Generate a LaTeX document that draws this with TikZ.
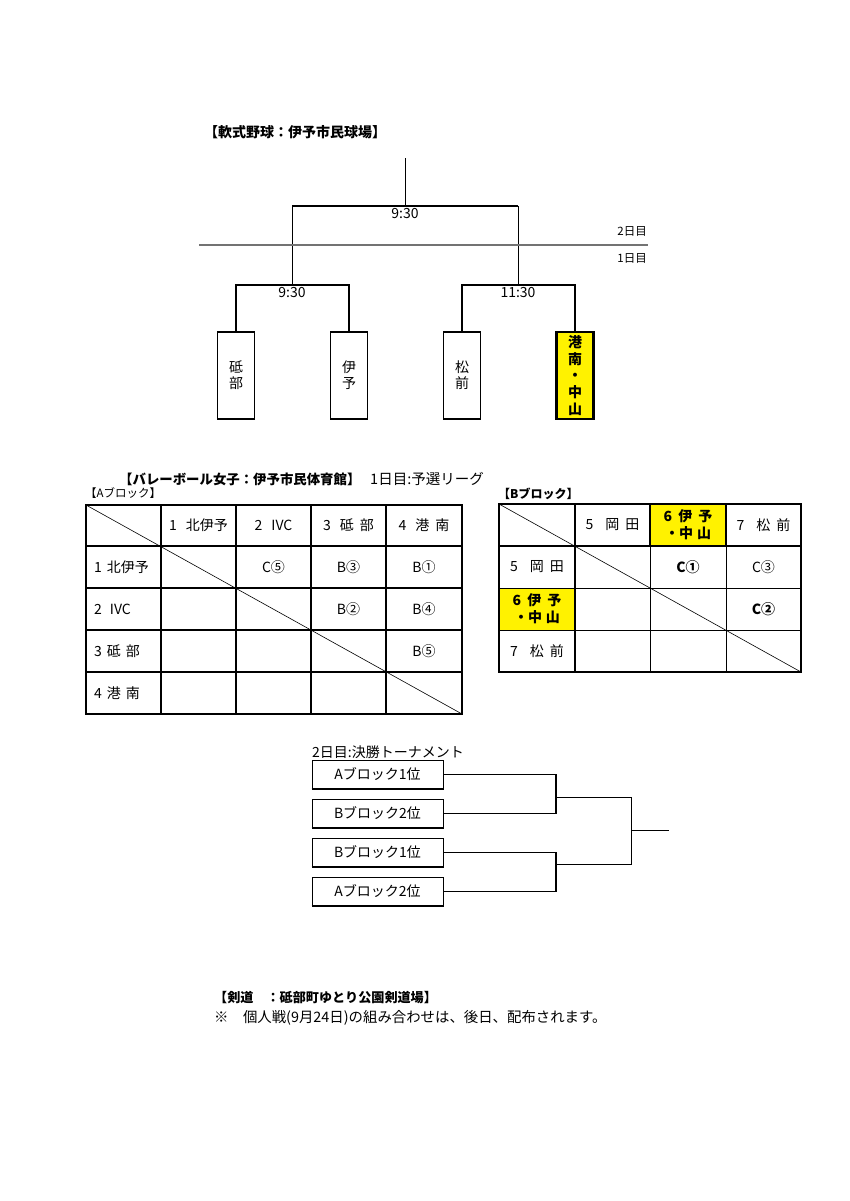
\documentclass[tikz,border=0pt]{standalone}
\usepackage{fontspec}
\setmainfont{Noto Sans CJK JP}
\usetikzlibrary{positioning}
\tikzset{
  every picture/.style={x=1pt, y=-1pt, line join=miter},
  every node/.style={inner sep=1pt, font=\fontsize{14}{16}\selectfont},
  link/.style={line width=0.9pt},
  bar/.style={line width=2pt},
  dayline/.style={line width=1.1pt, black!55},
  ttl/.style={anchor=west, font=\bfseries\fontsize{14}{16}\selectfont},
  smalltxt/.style={font=\fontsize{11.5}{13}\selectfont},
  teambox/.style={draw, line width=1.1pt, minimum width=37pt, minimum height=87pt,
    inner sep=0pt, align=center, font=\fontsize{14}{16}\selectfont},
  cell/.style={line width=1.2pt},
  frame/.style={line width=2pt},
  diag/.style={line width=0.6pt},
  boldcell/.style={align=center, font=\bfseries\fontsize{14}{17}\selectfont},
  slotbox/.style={draw, line width=0.9pt, minimum width=131pt, minimum height=28pt, inner sep=0pt},
}

\begin{document}
\begin{tikzpicture}
\useasboundingbox (0,0) rectangle (849,1201);

% 軟式野球
\node[ttl] (bbttl) at (203,132) {【軟式野球：伊予市民球場】};

\node[teambox] (tobe) at (236,375.5) {砥\\部};
\node[teambox] (iyo) at (349,375.5) {伊\\予};
\node[teambox] (matsu) at (462,375.5) {松\\前};
\node[teambox, fill=yellow, line width=2.6pt,
  font=\bfseries\fontsize{14}{16.75}\selectfont] (konan) at (575,375.5) {港\\南\\・\\中\\山};

\coordinate (m1) at (292,285);
\coordinate (m2) at (518,285);
\coordinate (top) at (405,206);
\coordinate (win) at (405,158);

\draw[bar] (tobe.north) |- (m1) -| (iyo.north);
\draw[bar] (matsu.north) |- (m2) -| (konan.north);
\draw[link] (m1) -- (m1 |- top);
\draw[link] (m2) -- (m2 |- top);
\draw[bar] (m1 |- top) -- (m2 |- top);
\draw[link] (top) -- (win);

\node[below=1pt of top] (t0) {9:30};
\node[below=1pt of m1] (t1) {9:30};
\node[below=1pt of m2] (t2) {11:30};

\coordinate (dl) at (199,245);
\coordinate (dr) at (648,245);
\draw[dayline] (dl) -- (dr);
\node[smalltxt, anchor=east] (day2) at (648,231) {2日目};
\node[smalltxt, anchor=east] (day1) at (648,258) {1日目};

% バレーボール
\node[ttl, font=\bfseries\fontsize{13.4}{15}\selectfont] (vbttl) at (118,479) {【バレーボール女子：伊予市民体育館】};
\node[anchor=west, font=\fontsize{14.5}{16}\selectfont] (vbday) at (369,479) {1日目:予選リーグ};
\node[smalltxt, anchor=west] (ablk) at (84,493) {【Aブロック】};
\node[anchor=west, font=\bfseries\fontsize{12}{14}\selectfont] (bblk) at (497,494) {【Bブロック】};

% Aブロック
\coordinate (aNW) at (86,505);
\coordinate (aSE) at (462,714);
\foreach \x in {161,236,311,386} \draw[cell] (\x,505) -- (\x,714);
\foreach \y in {546,588,630,672} \draw[cell] (86,\y) -- (462,\y);
\draw[frame] (aNW) rectangle (aSE);
\draw[diag] (aNW) -- (aSE);

\node (ah1) at (198.5,525.5) {1\hspace{9pt}北伊予};
\node (ah2) at (273.5,525.5) {2\hspace{9pt}IVC};
\node (ah3) at (348.5,525.5) {3\hspace{9pt}砥\hspace{6pt}部};
\node (ah4) at (424,525.5) {4\hspace{9pt}港\hspace{6pt}南};
\node[anchor=west] (ar1) at (93,567) {1\hspace{5pt}北伊予};
\node[anchor=west] (ar2) at (93,609) {2\hspace{8pt}IVC};
\node[anchor=west] (ar3) at (93,651) {3\hspace{5pt}砥\hspace{5pt}部};
\node[anchor=west] (ar4) at (93,693) {4\hspace{5pt}港\hspace{5pt}南};
\node (a12) at (273.5,567) {C⑤};
\node (a13) at (348.5,567) {B③};
\node (a14) at (424,567) {B①};
\node (a23) at (348.5,609) {B②};
\node (a24) at (424,609) {B④};
\node (a34) at (424,651) {B⑤};

% Bブロック
\coordinate (bNW) at (499,504);
\coordinate (bSE) at (801,672);
\fill[yellow] (650,504) rectangle (726,546);
\fill[yellow] (499,588) rectangle (575,630);
\foreach \x in {650,726} \draw[diag, line width=0.9pt] (\x,546) -- (\x,672);
\foreach \y in {588,630} \draw[diag, line width=0.9pt] (499,\y) -- (801,\y);
\foreach \x in {575,650,726} \draw[frame] (\x,504) -- (\x,546);
\draw[frame] (575,546) -- (575,672);
\draw[frame] (499,546) -- (801,546);
\draw[frame, line width=2.6pt] (bNW) rectangle (bSE);
\draw[diag] (bNW) -- (bSE);

\node (bh1) at (612.5,525) {5\hspace{12pt}岡\hspace{6pt}田};
\node[boldcell] (bh2) at (688,524.5) {6\hspace{6pt}伊\hspace{6pt}予\\・中\hspace{4pt}山};
\node (bh3) at (763.5,525) {7\hspace{12pt}松\hspace{6pt}前};
\node (br1) at (537,567) {5\hspace{12pt}岡\hspace{6pt}田};
\node[boldcell] (br2) at (537,609) {6\hspace{6pt}伊\hspace{6pt}予\\・中\hspace{4pt}山};
\node (br3) at (537,651) {7\hspace{12pt}松\hspace{6pt}前};
\node[font=\bfseries\fontsize{14}{16}\selectfont] (b12) at (688,567) {C①};
\node (b13) at (763.5,567) {C③};
\node[font=\bfseries\fontsize{14}{16}\selectfont] (b23) at (763.5,609) {C②};

% 決勝トーナメント
\node[anchor=west] (fnttl) at (311,752) {2日目:決勝トーナメント};
\node[slotbox] (f1) at (377.5,774.5) {Aブロック1位};
\node[slotbox, below=10pt of f1] (f2) {Bブロック2位};
\node[slotbox, below=10pt of f2] (f3) {Bブロック1位};
\node[slotbox, below=10pt of f3] (f4) {Aブロック2位};
\foreach \n in {f1,f2,f3,f4}
  \draw[line width=1.8pt] (\n.south west) -- (\n.south east) -- (\n.north east);

\coordinate (j1) at (556,797);
\coordinate (j2) at (556,864);
\coordinate (fin) at (631,830.5);
\coordinate (champ) at (669,830.5);
\draw[link] (f1.east) -| (j1);
\draw[link] (f2.east) -| (j1);
\draw[bar] (f1.east -| j1) -- (f2.east -| j1);
\draw[link] (f3.east) -| (j2);
\draw[link] (f4.east) -| (j2);
\draw[bar] (f3.east -| j2) -- (f4.east -| j2);
\draw[link] (j1) -| (fin);
\draw[link] (j2) -| (fin);
\draw[link] (fin) -- (champ);

% 剣道
\node[ttl, font=\bfseries\fontsize{13.1}{15}\selectfont] (kdttl) at (213,998) {【剣道　：砥部町ゆとり公園剣道場】};
\node[anchor=west, font=\fontsize{14.4}{16}\selectfont] (kdnote) at (213,1018) {※　個人戦(9月24日)の組み合わせは、後日、配布されます。};
\end{tikzpicture}
\end{document}
